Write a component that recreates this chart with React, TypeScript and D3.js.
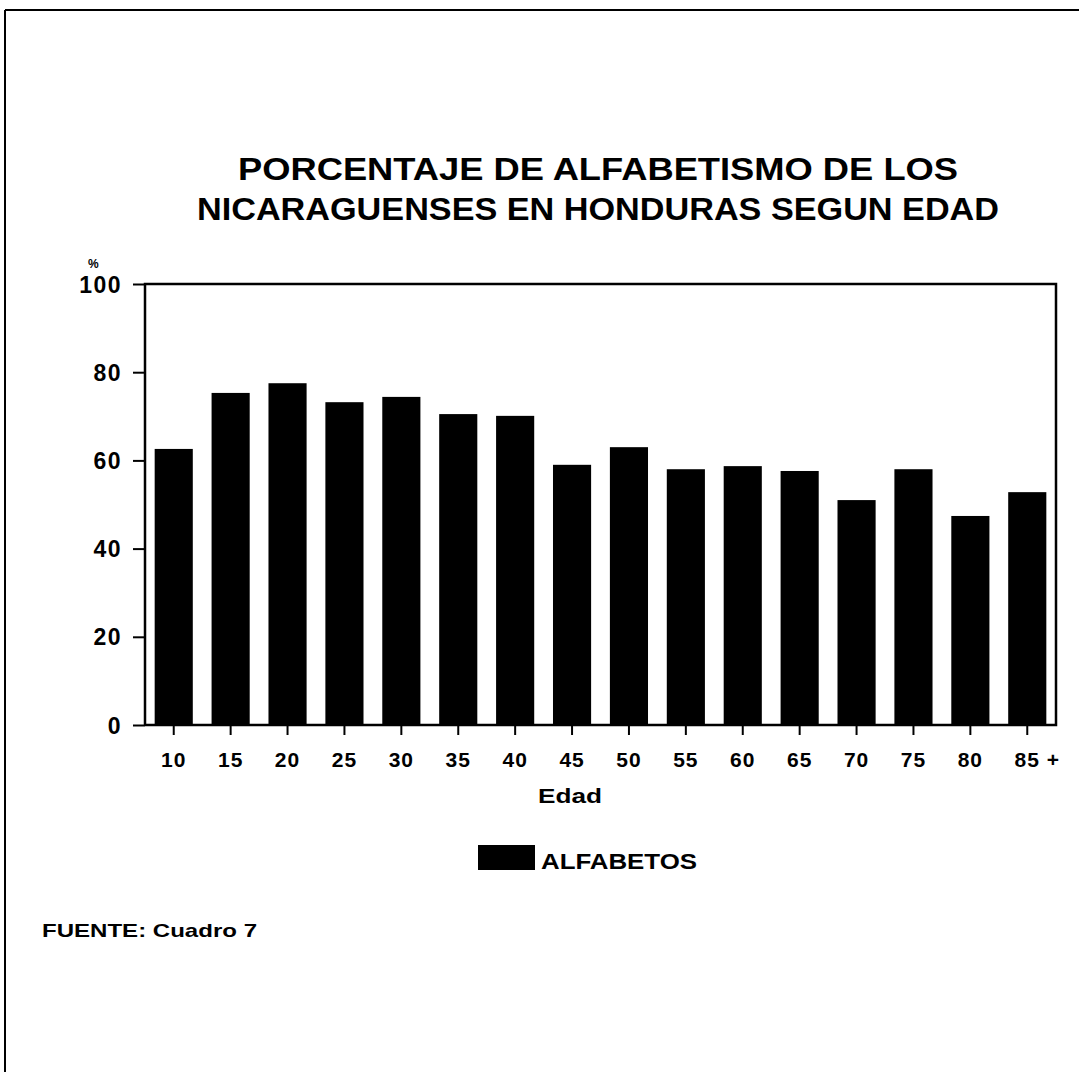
import React, { useEffect, useRef } from 'react';
import * as d3 from 'd3';

const edades = ['10', '15', '20', '25', '30', '35', '40', '45', '50', '55', '60', '65', '70', '75', '80', '85 +'];
const alfabetos = [62.6, 75.3, 77.5, 73.2, 74.4, 70.5, 70.1, 59.0, 63.0, 58.0, 58.7, 57.6, 51.0, 58.0, 47.4, 52.8];
const yTicks = [0, 20, 40, 60, 80, 100];
const titulo = ['PORCENTAJE DE ALFABETISMO DE LOS', 'NICARAGUENSES EN HONDURAS SEGUN EDAD'];

const W = 1079;
const H = 1072;
const FONT = '"Liberation Sans", Arial, sans-serif';

export default function App() {
  const svgRef = useRef<SVGSVGElement>(null);

  useEffect(() => {
    const svg = d3.select(svgRef.current);
    svg.selectAll('*').remove();

    const left = 145, right = 1056, top = 284, bottom = 725;

    const x = d3.scaleBand().domain(edades).range([left, right]).paddingInner(0.33).paddingOuter(0.17);
    const y = d3.scaleLinear().domain([0, 100]).range([bottom, top]);

    // page frame (top and left edges)
    svg.append('line').attr('x1', 5).attr('x2', W).attr('y1', 10).attr('y2', 10)
      .attr('stroke', '#000').attr('stroke-width', 2);
    svg.append('line').attr('x1', 5).attr('x2', 5).attr('y1', 10).attr('y2', H)
      .attr('stroke', '#000').attr('stroke-width', 2);

    // title
    svg.selectAll('.title').data(titulo).join('text')
      .attr('class', 'title')
      .attr('x', 598)
      .attr('y', (d, i) => 180 + i * 40)
      .attr('text-anchor', 'middle')
      .attr('font-family', FONT)
      .attr('font-size', 32)
      .attr('font-weight', 'bold')
      .attr('textLength', (d, i) => (i === 0 ? 720 : 802))
      .attr('lengthAdjust', 'spacingAndGlyphs')
      .text(d => d);

    // bars
    svg.selectAll('.bar').data(alfabetos).join('rect')
      .attr('class', 'bar')
      .attr('x', (d, i) => x(edades[i]) as number)
      .attr('width', x.bandwidth())
      .attr('y', d => y(d))
      .attr('height', d => y(0) - y(d))
      .attr('fill', '#000');

    // frame of plot
    svg.append('path')
      .attr('d', `M${left},${bottom}V${top}H${right}V${bottom}H${left}`)
      .attr('fill', 'none').attr('stroke', '#000').attr('stroke-width', 2.5);

    // y axis
    const yAxis = svg.append('g').attr('transform', `translate(${left},0)`)
      .call(d3.axisLeft(y).tickValues(yTicks).tickSize(12).tickPadding(11));
    yAxis.select('.domain').remove();
    yAxis.selectAll('line').attr('stroke-width', 2);
    yAxis.selectAll('text')
      .attr('font-family', FONT).attr('font-size', 23).attr('font-weight', 'bold')
      .attr('letter-spacing', 1.5)
      .attr('dy', '0.35em');

    svg.append('text').attr('x', 88).attr('y', 268)
      .attr('font-family', FONT).attr('font-size', 12).attr('font-weight', 'bold')
      .text('%');

    // x axis
    const xAxis = svg.append('g').attr('transform', `translate(0,${bottom})`)
      .call(d3.axisBottom(x).tickSize(10).tickPadding(17));
    xAxis.select('.domain').remove();
    xAxis.selectAll('line').attr('stroke-width', 2);
    xAxis.selectAll('text')
      .attr('font-family', FONT).attr('font-size', 21).attr('font-weight', 'bold')
      .attr('letter-spacing', 1)
      .attr('dx', (d: any) => (d === '85 +' ? 10 : 0));

    svg.append('text').attr('x', 570).attr('y', 803).attr('text-anchor', 'middle')
      .attr('font-family', FONT).attr('font-size', 21).attr('font-weight', 'bold')
      .attr('textLength', 64).attr('lengthAdjust', 'spacingAndGlyphs')
      .text('Edad');

    // legend
    svg.append('rect').attr('x', 478).attr('y', 845).attr('width', 57).attr('height', 25).attr('fill', '#000');
    svg.append('text').attr('x', 541).attr('y', 869)
      .attr('font-family', FONT).attr('font-size', 22).attr('font-weight', 'bold')
      .attr('textLength', 156).attr('lengthAdjust', 'spacingAndGlyphs')
      .text('ALFABETOS');

    // source
    svg.append('text').attr('x', 42).attr('y', 937)
      .attr('font-family', FONT).attr('font-size', 19).attr('font-weight', 'bold')
      .attr('textLength', 215).attr('lengthAdjust', 'spacingAndGlyphs')
      .text('FUENTE: Cuadro 7');
  }, []);

  return (
    <svg ref={svgRef} width={W} height={H} style={{ position: 'absolute', left: 0, top: 0, background: '#fff' }} />
  );
}
